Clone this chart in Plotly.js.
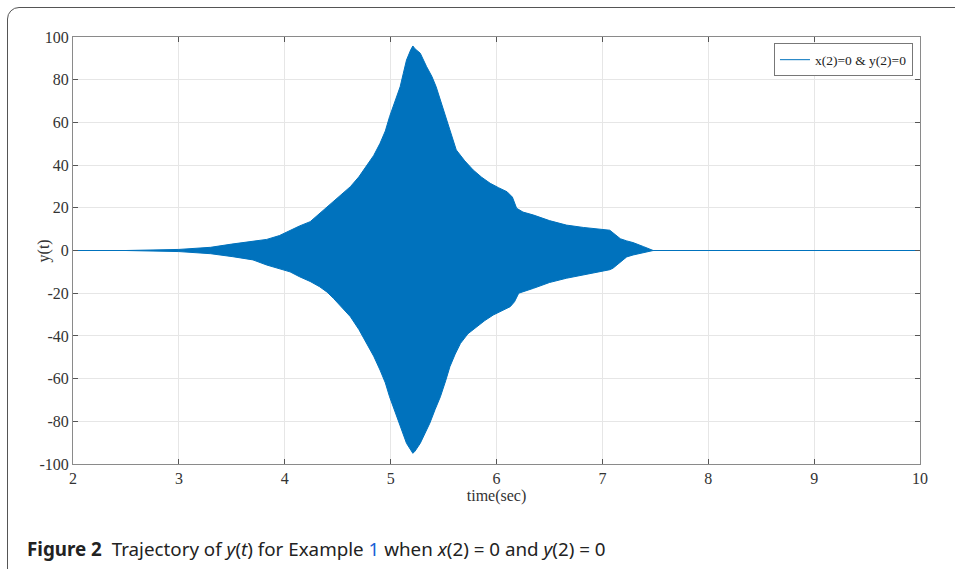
<!DOCTYPE html>
<html>
<head>
<meta charset="utf-8">
<script src="https://cdn.plot.ly/plotly-3.0.1.min.js"></script>
<style>
  html, body { margin:0; padding:0; background:#fff; }
  #wrap { position:relative; width:955px; height:569px; }
  #chart { position:absolute; left:0; top:0; width:955px; height:569px; }
  #frame { position:absolute; left:7px; top:7px; width:970px; height:575px;
           border:1.5px solid #555; border-radius:12px; pointer-events:none; box-sizing:border-box; }
</style>
</head>
<body>
<div id="wrap">
  <div id="chart"></div>
  <div id="frame"></div>
</div>
<script>
// Upper envelope of y(t) (time in sec)
const tUpper = [2, 2.5, 3.0, 3.3, 3.5, 3.7, 3.83, 3.95, 4.05, 4.14, 4.24, 4.33, 4.4, 4.46, 4.54, 4.62, 4.7, 4.77, 4.84, 4.9, 4.95, 4.99, 5.04, 5.09, 5.12, 5.15, 5.19, 5.21, 5.23, 5.28, 5.34, 5.39, 5.43, 5.48, 5.53, 5.58, 5.62, 5.7, 5.78, 5.86, 5.94, 6.02, 6.1, 6.15, 6.19, 6.25, 6.35, 6.5, 6.66, 6.82, 6.98, 7.07, 7.12, 7.17, 7.23, 7.29, 7.39, 7.48, 8, 9, 10];
const yUpper = [0, 0, 0.5, 1.5, 3.0, 4.3, 5.2, 7.0, 9.5, 11.5, 13.5, 17.4, 20, 22.9, 26.2, 29.9, 34.5, 39.3, 44.5, 50.2, 56, 62.7, 69.5, 76.7, 83, 89.2, 94, 95.8, 94.5, 92.4, 86.1, 81.5, 76.7, 69, 61.1, 53.5, 47.1, 42, 37.7, 34.3, 31.5, 29.4, 27.5, 25, 19.8, 18, 16.6, 14, 11.9, 10.8, 9.9, 9.5, 7.5, 5.5, 4.5, 3.7, 1.8, 0, 0, 0, 0];
// Lower envelope of y(t)
const tLower = [2, 2.5, 3.0, 3.3, 3.51, 3.7, 3.83, 3.95, 4.05, 4.14, 4.24, 4.33, 4.4, 4.46, 4.54, 4.62, 4.7, 4.77, 4.84, 4.9, 4.95, 4.99, 5.04, 5.09, 5.15, 5.21, 5.23, 5.28, 5.33, 5.37, 5.42, 5.47, 5.52, 5.56, 5.61, 5.66, 5.73, 5.81, 5.89, 5.97, 6.05, 6.13, 6.17, 6.21, 6.35, 6.5, 6.66, 6.82, 6.98, 7.07, 7.1, 7.17, 7.23, 7.29, 7.39, 7.48, 8, 9, 10];
const yLower = [0, 0, -0.5, -1.5, -2.9, -4.4, -6.8, -8.5, -10, -12.3, -14.5, -17, -19.5, -22.4, -26.5, -31, -37, -43.5, -49.5, -56, -62, -68.5, -75.5, -82.5, -90.3, -95, -94, -90.3, -85.5, -80.9, -74.5, -68.5, -61, -54.4, -48.5, -43.5, -39, -35.7, -32.8, -30.2, -28.2, -26.3, -24, -20, -17.7, -15, -13, -11.3, -9.7, -9, -8.3, -5.2, -3, -2.1, -1, 0, 0, 0, 0];

const xTicks = [2, 3, 4, 5, 6, 7, 8, 9, 10];
const yTicks = [-100, -80, -60, -40, -20, 0, 20, 40, 60, 80, 100];
const seriesName = "x(2)=0 & y(2)=0";

const blue = "#0072BD";
const serif = "Liberation Serif";

const traces = [
  { x: tUpper, y: yUpper, type: "scatter", mode: "lines", name: seriesName,
    line: { color: blue, width: 1 }, showlegend: true },
  { x: tLower, y: yLower, type: "scatter", mode: "lines", name: seriesName,
    line: { color: blue, width: 1 }, fill: "tonexty", fillcolor: blue, showlegend: false }
];

const axisCommon = {
  showgrid: true, gridcolor: "#e6e6e6", gridwidth: 1,
  showline: true, linecolor: "#8a8a8a", linewidth: 1, mirror: "ticks",
  ticks: "inside", ticklen: 5, tickcolor: "#555", tickwidth: 1,
  zeroline: false,
  tickfont: { family: serif, size: 16, color: "#333" }
};

const layout = {
  width: 955, height: 569,
  margin: { l: 73, r: 35, t: 37, b: 105 },
  paper_bgcolor: "rgba(0,0,0,0)", plot_bgcolor: "#fff",
  xaxis: Object.assign({}, axisCommon, {
    range: [2, 10], tickvals: xTicks, ticktext: xTicks.map(String),
    title: { text: "time(sec)", font: { family: serif, size: 16, color: "#333" }, standoff: 0 }
  }),
  yaxis: Object.assign({}, axisCommon, {
    range: [-100, 100], tickvals: yTicks, ticktext: yTicks.map(String)
  }),
  showlegend: true,
  legend: {
    x: 0.9917, y: 0.985, xanchor: "right", yanchor: "top",
    bgcolor: "#fff", bordercolor: "#777", borderwidth: 1,
    font: { family: serif, size: 13.5, color: "#222" },
    itemwidth: 30, tracegroupgap: 0
  },
  annotations: [
    { xref: "paper", yref: "y", x: -0.0343, y: 0, xanchor: "center", yanchor: "middle",
      textangle: -90, showarrow: false,
      font: { family: serif, size: 16, color: "#333" }, text: "y(t)" },
    { xref: "paper", yref: "paper", x: -0.0567, y: -0.199, xanchor: "left", yanchor: "middle",
      showarrow: false, align: "left",
      font: { family: "Noto Sans", size: 18.8, color: "#222" },
      text: "<b>Figure 2</b>  Trajectory of <i>y</i>(<i>t</i>) for Example <span style=\"color:#1a5fd6\">1</span> when <i>x</i>(2) = 0 and <i>y</i>(2) = 0" }
  ]
};

Plotly.newPlot("chart", traces, layout, { displayModeBar: false, staticPlot: true });
</script>
</body>
</html>
